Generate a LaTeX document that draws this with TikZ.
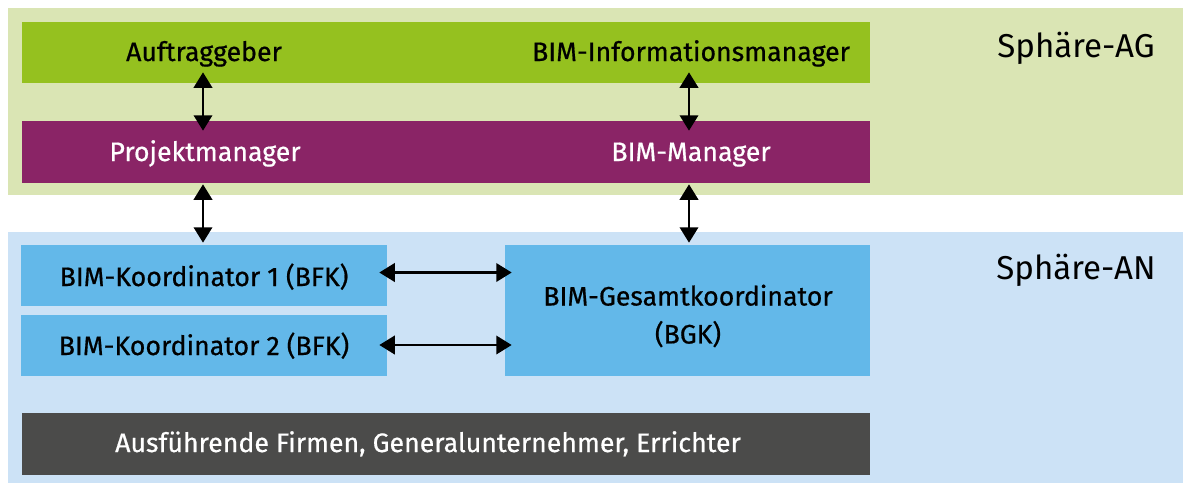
\documentclass[tikz,border=0pt]{standalone}
\usepackage{fontspec}
\setmainfont{Fira Sans}
\newfontfamily\medfont{Fira Sans}[FakeBold=0.6]
\usepackage{tikz}
\usetikzlibrary{positioning,arrows.meta,calc}

\definecolor{agbg}{HTML}{DAE5B4}
\definecolor{anbg}{HTML}{CCE2F6}
\definecolor{aggreen}{HTML}{95C11F}
\definecolor{pmpurple}{HTML}{8A2466}
\definecolor{bimblue}{HTML}{63B8E9}
\definecolor{firmgrey}{HTML}{4B4B4A}
\def\unit{0.025cm}

\begin{document}
\begin{tikzpicture}[x=0.025cm,y=-0.025cm,
    bar/.style={rectangle,inner sep=0pt,minimum width=848*\unit},
    lbl/.style={font=\fontsize{19}{24}\selectfont\medfont,anchor=base},
    sphere/.style={font=\fontsize{23.5}{28}\selectfont,anchor=base},
    dbl/.style={{Triangle[length=11pt,width=13pt]}-{Triangle[length=11pt,width=13pt]},line width=2pt}]
    \useasboundingbox (0,0) rectangle (1183,483);

    % Sphaeren
    \fill[agbg] (8,8) rectangle (1183,195);
    \fill[anbg] (8,232) rectangle (1183,483);
    \node[sphere] (sag) at (1076,57) {Sphäre-AG};
    \node[sphere] (san) at (1076,279) {Sphäre-AN};

    % Auftraggeber-Seite
    \node[bar,fill=aggreen,minimum height=61*\unit] (ag) at (446,52.5) {};
    \node[bar,fill=pmpurple,minimum height=62*\unit] (pm) at (446,152) {};
    \node[lbl] (auf) at (204,61) {Auftraggeber};
    \node[lbl] (bim) at (691,61) {BIM-Informationsmanager};
    \node[lbl,text=white] (proj) at (205,161) {Projektmanager};
    \node[lbl,text=white] (bman) at (691,161) {BIM-Manager};

    % Auftragnehmer-Seite
    \node[rectangle,inner sep=0pt,fill=bimblue,minimum width=366*\unit,minimum height=61*\unit] (bfk1) at (204,275.5) {};
    \node[rectangle,inner sep=0pt,fill=bimblue,minimum width=366*\unit,minimum height=61*\unit] (bfk2) at (204,345) {};
    \node[rectangle,inner sep=0pt,fill=bimblue,minimum width=365*\unit,minimum height=131*\unit] (bgk) at (687.5,310.5) {};
    \node[lbl] (k1) at (204,286) {BIM-Koordinator 1 (BFK)};
    \node[lbl] (k2) at (204,355) {BIM-Koordinator 2 (BFK)};
    \node[lbl,anchor=center,align=center] (gk) at (688,316) {BIM-Gesamtkoordinator\\[3pt](BGK)};
    \node[bar,fill=firmgrey,minimum height=62*\unit] (firm) at (446,444) {};
    \node[lbl,text=white] (ff) at (428,452) {Ausführende Firmen, Generalunternehmer, Errichter};

    % Verbindungen
    \draw[dbl,shorten <=-11*\unit,shorten >=-10*\unit] (ag.south -| 203,0) -- (pm.north -| 203,0);
    \draw[dbl,shorten <=-11*\unit,shorten >=-10*\unit] (ag.south -| 689,0) -- (pm.north -| 689,0);
    \draw[dbl,shorten <=1*\unit,shorten >=2*\unit] (pm.south -| 203,0) -- (bfk1.north -| 203,0);
    \draw[dbl,shorten <=1*\unit,shorten >=2*\unit] (pm.south -| 689,0) -- (bgk.north -| 689,0);
    \draw[dbl,shorten <=-8*\unit,shorten >=-7*\unit] ([yshift=3*\unit]bfk1.east) -- ([yshift=3*\unit]bfk1.east -| bgk.west);
    \draw[dbl,shorten <=-8*\unit,shorten >=-7*\unit] (bfk2.east) -- (bfk2.east -| bgk.west);
\end{tikzpicture}
\end{document}
